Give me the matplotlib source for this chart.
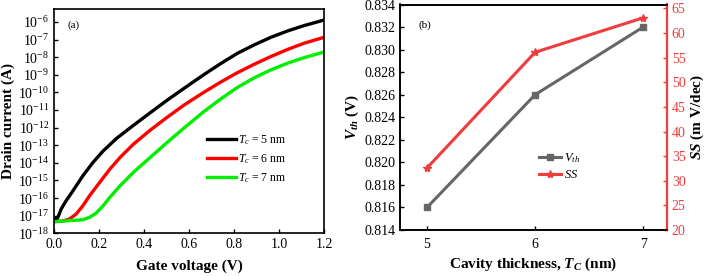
import numpy as np
import matplotlib
matplotlib.use('Agg')
import matplotlib.pyplot as plt

plt.rcParams['font.family'] = ['Liberation Serif', 'DejaVu Serif']
plt.rcParams['mathtext.fontset'] = 'custom'
plt.rcParams['mathtext.rm'] = 'Liberation Serif'
plt.rcParams['mathtext.it'] = 'Liberation Serif:italic'
plt.rcParams['mathtext.bf'] = 'Liberation Serif:bold'
plt.rcParams['mathtext.bfit'] = 'Liberation Serif:bold:italic'

# (a) transfer curves, log10 of drain current
vg_5 = [0.0, 0.015, 0.022, 0.032, 0.054, 0.084, 0.128, 0.173, 0.218, 0.278, 0.352,
        0.427, 0.502, 0.58, 0.665, 0.74, 0.815, 0.89, 0.964, 1.04, 1.113, 1.2]
log_id_5 = [-17.15, -17.15, -16.95, -16.62, -16.15, -15.59, -14.74, -13.98, -13.33, -12.61, -11.88,
            -11.16, -10.45, -9.75, -9.0, -8.37, -7.78, -7.3, -6.87, -6.5, -6.2, -5.89]

vg_6 = [0.0, 0.04, 0.069, 0.099, 0.128, 0.158, 0.203, 0.248, 0.293, 0.352, 0.427,
        0.502, 0.58, 0.665, 0.74, 0.815, 0.89, 0.964, 1.04, 1.113, 1.2]
log_id_6 = [-17.34, -17.3, -17.19, -16.9, -16.44, -15.87, -15.11, -14.36, -13.7, -12.95, -12.15,
            -11.42, -10.7, -10.0, -9.42, -8.88, -8.4, -7.96, -7.55, -7.2, -6.87]

vg_7 = [0.0, 0.069, 0.128, 0.158, 0.188, 0.218, 0.248, 0.293, 0.352, 0.427, 0.502,
        0.58, 0.665, 0.74, 0.815, 0.89, 0.964, 1.04, 1.113, 1.2]
log_id_7 = [-17.34, -17.28, -17.23, -17.09, -16.85, -16.44, -15.96, -15.31, -14.55, -13.7, -12.85,
            -12.0, -11.1, -10.38, -9.72, -9.17, -8.72, -8.33, -8.02, -7.71]

# (b) Vth and SS vs cavity thickness
tc = [5, 6, 7]
vth = [0.816, 0.826, 0.832]
ss = [32.6, 56.1, 63.1]

fig = plt.figure(figsize=(7.08, 2.76), dpi=100)

# ---- panel (a)
ax1 = fig.add_axes([54/708, 1-233.3/276, 270/708, 224/276])
ax1.plot(vg_5, 10**np.array(log_id_5), color='black', lw=2.4, label='$T_c$ = 5 nm')
ax1.plot(vg_6, 10**np.array(log_id_6), color='#ff0000', lw=2.4, label='$T_c$ = 6 nm')
ax1.plot(vg_7, 10**np.array(log_id_7), color='#00ee00', lw=2.4, label='$T_c$ = 7 nm')
ax1.set_yscale('log')
ax1.set_xlim(0, 1.2)
ax1.set_ylim(1e-18, 10**-5.28)
ax1.set_yticks([10.0**k for k in range(-18, -5)])
ax1.set_yticklabels(['10$^{%d}$' % k for k in range(-18, -5)])
ax1.minorticks_off()
ax1.set_xticks([0.0, 0.2, 0.4, 0.6, 0.8, 1.0, 1.2])
ax1.set_xticklabels(['0.0', '0.2', '0.4', '0.6', '0.8', '1.0', '1.2'])
ax1.tick_params(direction='in', labelsize=10, length=3, width=1)
ax1.set_xlabel('Gate voltage (V)', fontsize=11, fontweight='bold', labelpad=6)
ax1.set_ylabel('Drain current (A)', fontsize=11, fontweight='bold', labelpad=2)
ax1.text(0.05, 0.93, '(a)', transform=ax1.transAxes, fontsize=8, va='center')
ax1.legend(loc='upper left', bbox_to_anchor=(0.55, 0.47), frameon=False, fontsize=8.5,
           handlelength=2.4, handletextpad=0.2, labelspacing=0.45, borderaxespad=0)
for s in ax1.spines.values():
    s.set_linewidth(1.2)

# ---- panel (b)
ax2 = fig.add_axes([400/708, 1-230/276, 267/708, 225.5/276])
l1, = ax2.plot(tc, vth, color='#666666', lw=2.2, marker='s', ms=5, label='$V_{th}$')
ax2.set_xlim(4.75, 7.22)
ax2.set_ylim(0.814, 0.834)
ax2.set_xticks(tc)
ax2.set_yticks(np.arange(0.814, 0.8341, 0.002))
ax2.yaxis.set_major_formatter(matplotlib.ticker.FormatStrFormatter('%.3f'))
ax2.tick_params(direction='in', labelsize=10, length=3, width=1)
ax2.tick_params(axis='x', pad=6)
ax2.set_xlabel('Cavity thickness, $\\mathbfit{T_C}$ (nm)', fontsize=11, fontweight='bold', labelpad=3)
ax2.set_ylabel('$\\mathbfit{V_{th}}$ (V)', fontsize=11, fontweight='bold', labelpad=2)
ax2.text(0.07, 0.91, '(b)', transform=ax2.transAxes, fontsize=8, va='center')

ax3 = ax2.twinx()
l2, = ax3.plot(tc, ss, color='#f03c3c', lw=2.2, marker='*', ms=6, label='$SS$')
ax3.set_ylim(20, 65.8)
ax3.set_yticks(range(20, 66, 5))
ax3.tick_params(direction='in', labelsize=10, length=3, width=1, colors='#f03c3c')
ax3.spines['right'].set_color('#f03c3c')
ax3.set_ylabel('$\\mathbfit{SS}$ (m V/dec)', fontsize=11, fontweight='bold', labelpad=2)
for s in list(ax2.spines.values()) + list(ax3.spines.values()):
    s.set_linewidth(1.2)
ax3.spines['right'].set_linewidth(1.6)

ax2.legend(handles=[l1, l2], loc='upper left', bbox_to_anchor=(0.5, 0.37), frameon=False,
           fontsize=9, handlelength=1.8, handletextpad=0.2, labelspacing=0.3, borderaxespad=0)

fig.savefig('out.png', dpi=100)
